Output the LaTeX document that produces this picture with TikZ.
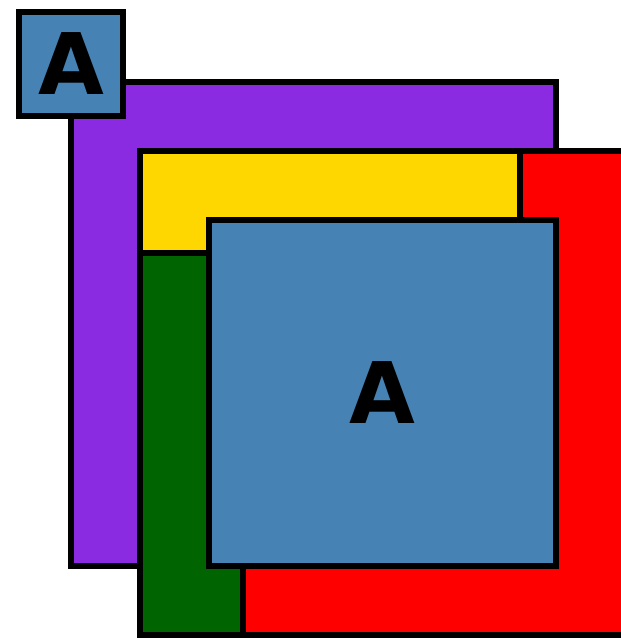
\documentclass[tikz,border=0pt]{standalone}
\usepackage{fontspec}
\setsansfont{DejaVu Sans}
\usepackage{tikz}
\usetikzlibrary{positioning}

\definecolor{boxpurple}{HTML}{8A2BE2}
\definecolor{boxgold}{HTML}{FFD700}
\definecolor{boxred}{HTML}{FF0000}
\definecolor{boxgreen}{HTML}{006400}
\definecolor{boxblue}{HTML}{4682B4}

\begin{document}
\begin{tikzpicture}[
    x=1pt, y=-1pt,
    panel/.style={draw=black, line width=5.5pt, line join=miter},
    letterbox/.style={panel, fill=boxblue, rectangle, inner sep=0pt,
        font=\sffamily\bfseries\fontsize{85}{85}\selectfont}
]

% Frame of the picture
\useasboundingbox (0,0) rectangle (621,638);

% Back panel
\draw[panel, fill=boxpurple] (71,82) rectangle (556,566);

% Red panel, running past the right edge
\draw[panel, fill=boxred] (140,151) rectangle (624,635);

% Yellow and green strips
\draw[panel, fill=boxgold] (140,151) rectangle (520,253);
\draw[panel, fill=boxgreen] (140,253) rectangle (243,635);

% Big letter box in front
\node[letterbox, minimum width=347pt, minimum height=346pt] (big) at (382.5,393) {A};

% Small letter box in the corner
\node[letterbox, minimum width=104pt, minimum height=104pt] (small) at (71,64) {A};

\end{tikzpicture}
\end{document}
